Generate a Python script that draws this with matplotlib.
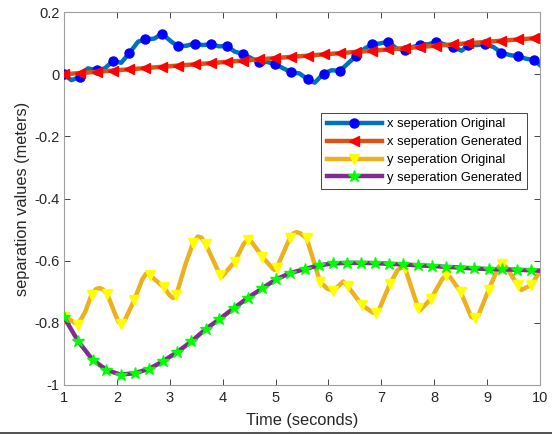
import matplotlib
matplotlib.use("Agg")
import matplotlib.pyplot as plt
import matplotlib.lines as mlines

plt.rcParams['font.family'] = ['Liberation Sans', 'DejaVu Sans']
plt.rcParams['axes.unicode_minus'] = False

# x seperation Original : curve and sample points
xo_line_t = [1.00, 1.14, 1.31, 1.45, 1.62, 1.77, 1.93, 2.08, 2.23, 2.40, 2.54, 2.71, 2.85, 3.03,
             3.16, 3.32, 3.47, 3.62, 3.78, 3.93, 4.08, 4.23, 4.39, 4.55, 4.69, 4.83, 4.99, 5.15,
             5.30, 5.45, 5.61, 5.74, 5.91, 6.06, 6.22, 6.37, 6.52, 6.69, 6.83, 6.97, 7.13, 7.29,
             7.44, 7.60, 7.74, 7.90, 8.04, 8.20, 8.35, 8.52, 8.65, 8.80, 8.96, 9.12, 9.27, 9.43,
             9.58, 9.74, 9.89, 10.0]
xo_line_v = [0.000, -0.019, -0.008, 0.019, 0.013, 0.019, 0.043, 0.037, 0.067, 0.105, 0.112, 0.115,
             0.131, 0.105, 0.090, 0.092, 0.099, 0.094, 0.097, 0.090, 0.091, 0.073, 0.065, 0.051,
             0.040, 0.040, 0.033, 0.019, 0.006, 0.003, -0.016, -0.027, 0.002, 0.013, 0.011, 0.035,
             0.058, 0.083, 0.097, 0.099, 0.105, 0.083, 0.079, 0.088, 0.094, 0.097, 0.105, 0.096,
             0.088, 0.076, 0.094, 0.094, 0.097, 0.088, 0.070, 0.062, 0.058, 0.050, 0.046, 0.030]
xo_mark_t = [1.00, 1.31, 1.62, 1.93, 2.23, 2.54, 2.85, 3.16, 3.47, 3.78, 4.08, 4.39, 4.69, 4.99,
             5.30, 5.61, 5.91, 6.22, 6.52, 6.83, 7.13, 7.44, 7.74, 8.04, 8.35, 8.65, 8.96, 9.27,
             9.58, 9.89]
xo_mark_v = [0.000, -0.008, 0.013, 0.043, 0.067, 0.112, 0.131, 0.090, 0.099, 0.097, 0.091, 0.065,
             0.040, 0.033, 0.006, -0.016, 0.002, 0.011, 0.058, 0.097, 0.105, 0.079, 0.094, 0.105,
             0.088, 0.094, 0.097, 0.070, 0.058, 0.046]

# x seperation Generated
xg_t = [1.00, 1.31, 1.62, 1.93, 2.23, 2.54, 2.85, 3.16, 3.47, 3.78, 4.08, 4.39, 4.69, 4.99,
        5.30, 5.61, 5.91, 6.22, 6.52, 6.83, 7.13, 7.44, 7.74, 8.04, 8.35, 8.65, 8.96, 9.27,
        9.58, 9.89, 10.0]
xg_v = [0.000, 0.004, 0.008, 0.012, 0.016, 0.020, 0.024, 0.028, 0.032, 0.036, 0.040, 0.044,
        0.048, 0.052, 0.056, 0.060, 0.064, 0.068, 0.072, 0.076, 0.080, 0.084, 0.088, 0.092,
        0.096, 0.100, 0.104, 0.108, 0.112, 0.116, 0.117]

# y seperation Original : curve and sample points
yo_line_t = [1.00, 1.17, 1.26, 1.40, 1.52, 1.60, 1.67, 1.74, 1.82, 1.95, 2.03, 2.08, 2.14, 2.33,
             2.48, 2.56, 2.62, 2.89, 3.00, 3.06, 3.12, 3.30, 3.44, 3.53, 3.60, 3.68, 3.95, 3.99,
             4.23, 4.40, 4.48, 4.55, 4.75, 4.95, 4.99, 5.02, 5.27, 5.34, 5.40, 5.47, 5.59, 5.84,
             5.97, 6.09, 6.20, 6.28, 6.37, 6.63, 6.83, 6.88, 6.94, 7.16, 7.31, 7.38, 7.45, 7.70,
             7.73, 7.94, 8.15, 8.23, 8.30, 8.50, 8.70, 8.77, 8.84, 9.03, 9.22, 9.29, 9.36, 9.58,
             9.65, 9.84, 10.0]
yo_line_v = [-0.780, -0.796, -0.806, -0.765, -0.710, -0.692, -0.688, -0.693, -0.708, -0.765,
             -0.797, -0.804, -0.795, -0.726, -0.660, -0.640, -0.646, -0.686, -0.712, -0.720,
             -0.712, -0.610, -0.544, -0.522, -0.526, -0.547, -0.646, -0.651, -0.603, -0.545,
             -0.533, -0.540, -0.587, -0.626, -0.630, -0.624, -0.528, -0.512, -0.508, -0.512,
             -0.528, -0.667, -0.689, -0.697, -0.680, -0.667, -0.683, -0.742, -0.766, -0.769,
             -0.765, -0.676, -0.630, -0.622, -0.624, -0.753, -0.760, -0.723, -0.660, -0.646,
             -0.652, -0.700, -0.780, -0.786, -0.775, -0.694, -0.620, -0.611, -0.620, -0.678,
             -0.694, -0.678, -0.635]
yo_mark_t = [1.00, 1.26, 1.52, 1.82, 2.08, 2.33, 2.62, 2.89, 3.12, 3.44, 3.68, 3.95, 4.23, 4.48,
             4.75, 5.02, 5.27, 5.59, 5.84, 6.09, 6.37, 6.63, 6.91, 7.16, 7.45, 7.70, 7.94, 8.23,
             8.50, 8.77, 9.03, 9.29, 9.58, 9.84]
yo_mark_v = [-0.780, -0.806, -0.710, -0.708, -0.804, -0.726, -0.646, -0.686, -0.712, -0.544,
             -0.547, -0.646, -0.603, -0.533, -0.587, -0.624, -0.528, -0.528, -0.667, -0.697,
             -0.683, -0.742, -0.768, -0.676, -0.624, -0.753, -0.723, -0.646, -0.700, -0.786,
             -0.694, -0.611, -0.678, -0.678]

# y seperation Generated
yg_t = [1.00, 1.27, 1.54, 1.80, 2.07, 2.34, 2.61, 2.87, 3.14, 3.41, 3.68, 3.94, 4.21, 4.48,
        4.75, 5.01, 5.28, 5.55, 5.82, 6.08, 6.35, 6.62, 6.89, 7.15, 7.42, 7.69, 7.96, 8.22,
        8.49, 8.76, 9.03, 9.29, 9.56, 9.83, 10.0]
yg_v = [-0.782, -0.860, -0.919, -0.951, -0.967, -0.962, -0.948, -0.924, -0.894, -0.860,
        -0.820, -0.788, -0.753, -0.719, -0.689, -0.660, -0.640, -0.627, -0.615, -0.609,
        -0.607, -0.607, -0.608, -0.610, -0.612, -0.615, -0.617, -0.620, -0.622, -0.625,
        -0.627, -0.628, -0.629, -0.631, -0.632]

labels = ["x seperation Original", "x seperation Generated",
          "y seperation Original", "y seperation Generated"]
yticks = [-1, -0.8, -0.6, -0.4, -0.2, 0, 0.2]
ytick_labels = ["-1", "-0.8", "-0.6", "-0.4", "-0.2", "0", "0.2"]

c_blue_l, c_blue_m = "#0072BD", "#0000FF"
c_red_l, c_red_m = "#D95319", "#FF0000"
c_yel_l, c_yel_m = "#EDB120", "#FFFF00"
c_pur_l, c_grn_m = "#7E2F8E", "#00FF00"
lw = 3.2

fig = plt.figure(figsize=(5.52, 4.34), dpi=100)
ax = fig.add_axes([0.116, 0.113, 0.862, 0.859])

ax.plot(xo_line_t, xo_line_v, color=c_blue_l, lw=lw, zorder=2, solid_joinstyle="round")
ax.plot(xo_mark_t, xo_mark_v, ls="none", marker="o", ms=6.5, color=c_blue_m, zorder=3)

ax.plot(xg_t, xg_v, color=c_red_l, lw=lw, zorder=4)
ax.plot(xg_t[:-1], xg_v[:-1], ls="none", marker="<", ms=7.5, color=c_red_m, zorder=5)

ax.plot(yo_line_t, yo_line_v, color=c_yel_l, lw=lw, zorder=6, solid_joinstyle="round")
ax.plot(yo_mark_t, yo_mark_v, ls="none", marker="v", ms=6.5, color=c_yel_m, zorder=7)

ax.plot(yg_t, yg_v, color=c_pur_l, lw=lw, zorder=8, solid_joinstyle="round")
ax.plot(yg_t[:-1], yg_v[:-1], ls="none", marker="*", ms=9, color=c_grn_m, zorder=9)

ax.set_xlim(1, 10)
ax.set_ylim(-1, 0.2)
ax.set_xticks(range(1, 11))
ax.set_yticks(yticks)
ax.set_yticklabels(ytick_labels)
ax.tick_params(direction="in", top=True, right=True, length=4, width=0.6,
               color="#262626", labelsize=10.5, labelcolor="#262626", pad=4)
ax.tick_params(axis="y", pad=3)
for sp in ax.spines.values():
    sp.set_color("#a0a0a0")
    sp.set_linewidth(0.8)

ax.set_xlabel("Time (seconds)", fontsize=11.8, color="#262626", labelpad=6)
ax.set_ylabel("separation values (meters)", fontsize=11.8, color="#262626", labelpad=3)

# legend with proxy artists (line + marker)
handles = [
    mlines.Line2D([], [], color=c_blue_l, lw=lw, marker="o", ms=6.5, mfc=c_blue_m, mec=c_blue_m),
    mlines.Line2D([], [], color=c_red_l, lw=lw, marker="<", ms=7.5, mfc=c_red_m, mec=c_red_m),
    mlines.Line2D([], [], color=c_yel_l, lw=lw, marker="v", ms=6.5, mfc=c_yel_m, mec=c_yel_m),
    mlines.Line2D([], [], color=c_pur_l, lw=lw, marker="*", ms=9, mfc=c_grn_m, mec=c_grn_m),
]
leg = ax.legend(handles, labels, loc="upper right", bbox_to_anchor=(0.973, 0.729),
                fontsize=9.3, handlelength=4.3, handletextpad=0.4, labelspacing=0.45,
                borderpad=0.4, borderaxespad=0, fancybox=False, framealpha=1)
leg.get_frame().set_edgecolor("#262626")
leg.get_frame().set_linewidth(0.6)

fig.add_artist(mlines.Line2D([0, 1], [0.003, 0.003], color="#333333", lw=1.2))

fig.savefig("out.png", dpi=100)
